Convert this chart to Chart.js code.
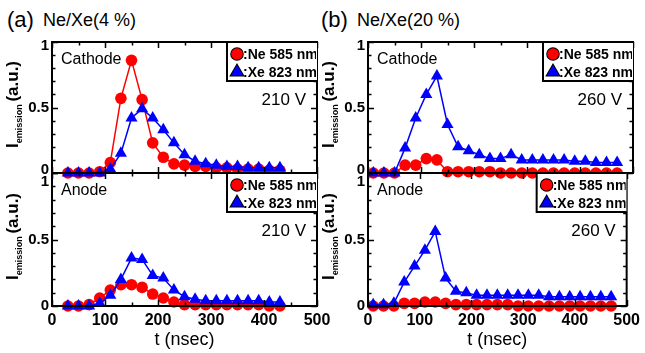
<!DOCTYPE html>
<html>
<head>
<meta charset="utf-8">
<script src="https://cdn.jsdelivr.net/npm/chart.js@4.4.1/dist/chart.umd.min.js"></script>
<style>
  body { margin: 0; background: #fff; font-family: "Liberation Sans", Arial, sans-serif; }
  #wrap { position: relative; width: 645px; height: 353px; overflow: hidden; }
  canvas { position: absolute; left: 0; top: 0; }
  .tag { position: absolute; color: #000; white-space: nowrap; }
  .big { font-size: 22px; }
  .sub { font-size: 18px; }
</style>
</head>
<body>
<div id="wrap">
  <span class="tag big" style="left:7px;top:7px">(a)</span>
  <span class="tag sub" style="left:43px;top:10px">Ne/Xe(4 %)</span>
  <span class="tag big" style="left:321px;top:7px">(b)</span>
  <span class="tag sub" style="left:357px;top:10px">Ne/Xe(20 %)</span>
  <canvas id="c1" width="645" height="353"></canvas>
  <canvas id="c2" width="645" height="353"></canvas>
  <canvas id="c3" width="645" height="353"></canvas>
  <canvas id="c4" width="645" height="353"></canvas>
</div>
<script>
// time axis (nsec)
const timeA = [30, 50, 70, 90, 110, 130, 150, 170, 190, 210, 230, 250, 270, 290, 310, 330, 350, 370, 390, 410, 430];
const timeB = [10, 30, 50, 70, 90, 110, 130, 150, 170, 190, 210, 230, 250, 270, 290, 310, 330, 350, 370, 390, 410, 430, 450, 470];

// (a) Ne/Xe(4 %), 210 V
const neCathodeA = [0, 0, 0, 0.01, 0.08, 0.57, 0.86, 0.56, 0.23, 0.12, 0.07, 0.06, 0.05, 0.05, 0.04, 0.04, 0.03, 0.03, 0.03, 0.02, 0.02];
const xeCathodeA = [0, 0, 0, 0, 0.03, 0.15, 0.42, 0.49, 0.42, 0.33, 0.23, 0.14, 0.09, 0.07, 0.06, 0.05, 0.05, 0.04, 0.04, 0.04, 0.04];
const neAnodeA = [0, 0, 0.01, 0.06, 0.12, 0.16, 0.16, 0.14, 0.09, 0.06, 0.03, 0.01, 0.01, 0.01, 0.01, 0.01, 0.01, 0.01, 0.01, 0, 0];
const xeAnodeA = [0, 0, 0, 0.02, 0.08, 0.2, 0.36, 0.35, 0.23, 0.21, 0.12, 0.07, 0.05, 0.04, 0.04, 0.04, 0.04, 0.04, 0.04, 0.03, 0.03];

// (b) Ne/Xe(20 %), 260 V
const neCathodeB = [0, 0, 0, 0.06, 0.06, 0.11, 0.1, 0.01, 0.01, 0.01, 0.01, 0.01, 0, 0, 0, 0, 0, 0, 0, 0, 0, 0, 0, 0];
const xeCathodeB = [0, 0, 0, 0.19, 0.42, 0.6, 0.74, 0.37, 0.2, 0.17, 0.14, 0.11, 0.11, 0.14, 0.1, 0.1, 0.1, 0.1, 0.1, 0.09, 0.09, 0.08, 0.08, 0.08];
const neAnodeB = [0, 0, 0, 0.02, 0.02, 0.03, 0.03, 0.02, 0.01, 0.01, 0.01, 0.01, 0.01, 0.01, 0, 0, 0, 0, 0, 0, 0, 0, 0, 0];
const xeAnodeB = [0.01, 0.01, 0.02, 0.18, 0.3, 0.42, 0.56, 0.21, 0.11, 0.1, 0.08, 0.08, 0.08, 0.08, 0.08, 0.08, 0.08, 0.07, 0.07, 0.07, 0.07, 0.07, 0.07, 0.07];

// ticks
const yLabels = [0, 0.5, 1];
const yTickVals = [0, 0.1, 0.2, 0.3, 0.4, 0.5, 0.6, 0.7, 0.8, 0.9, 1];
const xTickVals = [0, 50, 100, 150, 200, 250, 300, 350, 400, 450, 500];
const legendNames = [':Ne 585 nm', ':Xe 823 nm'];

const FONT = '"Liberation Sans", Arial, sans-serif';
const RED = '#ff0000';
const BLUE = '#0000ff';

// frame, inward ticks, tick labels, y title, legend box and notes
const panelDecor = {
  id: 'panelDecor',
  afterDraw(chart) {
    const ctx = chart.ctx;
    const a = chart.chartArea;
    const xs = chart.scales.x, ys = chart.scales.y;
    const p = chart.options.plugins.panelDecor;
    ctx.save();
    ctx.strokeStyle = '#000';
    ctx.lineWidth = 1.5;
    yTickVals.forEach(v => {
      const y = Math.round(ys.getPixelForValue(v)) + 0.5;
      const len = yLabels.includes(v) ? 6 : 3.5;
      ctx.beginPath();
      ctx.moveTo(a.left, y); ctx.lineTo(a.left + len, y);
      ctx.moveTo(a.right, y); ctx.lineTo(a.right - len, y);
      ctx.stroke();
    });
    xTickVals.forEach(v => {
      const x = Math.round(xs.getPixelForValue(v)) + 0.5;
      const len = v % 100 === 0 ? 6 : 3.5;
      ctx.beginPath();
      ctx.moveTo(x, a.bottom); ctx.lineTo(x, a.bottom - len);
      ctx.moveTo(x, a.top); ctx.lineTo(x, a.top + len);
      ctx.stroke();
    });
    ctx.lineWidth = 2;
    ctx.strokeRect(a.left, a.top, a.right - a.left, a.bottom - a.top);

    // y tick labels
    ctx.fillStyle = '#000';
    ctx.font = 'bold 15px ' + FONT;
    ctx.textAlign = 'right';
    ctx.textBaseline = 'middle';
    yLabels.forEach(v => {
      ctx.fillText(String(v), a.left - 3, ys.getPixelForValue(v) + (p.labelShift[v] || 0));
    });

    // y title: I_emission (a.u.)
    ctx.save();
    ctx.translate(a.left - 34, (a.top + a.bottom) / 2 - 4);
    ctx.rotate(-Math.PI / 2);
    ctx.textAlign = 'left';
    ctx.textBaseline = 'alphabetic';
    ctx.font = 'bold 17px ' + FONT;
    const wI = ctx.measureText('I').width;
    const wP = ctx.measureText(' (a.u.)').width;
    ctx.font = 'bold 9px ' + FONT;
    const wE = ctx.measureText('emission').width;
    let x0 = -(wI + wE + wP) / 2;
    ctx.font = 'bold 17px ' + FONT;
    ctx.fillText('I', x0, 0);
    ctx.font = 'bold 9px ' + FONT;
    ctx.fillText('emission', x0 + wI, 4);
    ctx.font = 'bold 17px ' + FONT;
    ctx.fillText(' (a.u.)', x0 + wI + wE - 2, 0);
    ctx.restore();

    // electrode and voltage
    ctx.font = '16px ' + FONT;
    ctx.textAlign = 'left';
    ctx.fillText(p.electrode, a.left + 9, a.top + 18);
    ctx.font = '17px ' + FONT;
    ctx.textAlign = 'right';
    ctx.fillText(p.voltage, a.right - 11, a.top + 58);

    // legend box, clipped by the frame
    const lx = a.right - 90, ly = a.top, lh = 39;
    ctx.save();
    ctx.beginPath();
    ctx.rect(lx - 2, ly - 2, a.right - lx + 2, lh + 4);
    ctx.clip();
    ctx.fillStyle = '#fff';
    ctx.fillRect(lx, ly, a.right - lx, lh);
    ctx.lineWidth = 2;
    ctx.strokeRect(lx, ly, a.right - lx + 10, lh);
    ctx.restore();
    ctx.save();
    ctx.beginPath();
    ctx.rect(lx, ly, a.right - lx - 1, lh);
    ctx.clip();
    const ds = chart.data.datasets;
    ds.forEach((d, i) => {
      const cy = ly + 12 + i * 18;
      Chart.helpers.drawPoint(ctx, {
        pointStyle: d.pointStyle, radius: d.pointRadius, borderWidth: 1, rotation: 0
      }, lx + 10, cy);
      ctx.fillStyle = d.backgroundColor;
      ctx.fill();
      ctx.fillStyle = '#000';
      ctx.font = 'bold 14px ' + FONT;
      ctx.textAlign = 'left';
      ctx.textBaseline = 'middle';
      ctx.fillText(legendNames[i], lx + 16, cy + 1);
    });
    ctx.restore();
    ctx.restore();
  }
};

function makePanel(id, time, ne, xe, area, showX, electrode, voltage, labelShift) {
  const yW = 30;
  const xH = showX ? 45 : 0;
  const pts = arr => time.map((t, i) => ({ x: t, y: arr[i] }));
  return new Chart(document.getElementById(id), {
    type: 'line',
    data: {
      datasets: [
        {
          label: 'Ne 585 nm', data: pts(ne), borderColor: RED, backgroundColor: RED,
          pointStyle: 'circle', pointRadius: 5.8, pointBorderWidth: 0, borderWidth: 1.5,
          order: 1, clip: false
        },
        {
          label: 'Xe 823 nm', data: pts(xe), borderColor: BLUE, backgroundColor: BLUE,
          pointStyle: 'triangle', pointRadius: 7, pointBorderWidth: 0, borderWidth: 1.5,
          order: 0, clip: false
        }
      ]
    },
    options: {
      responsive: false,
      animation: false,
      events: [],
      layout: {
        padding: { left: area.left - yW, top: area.top, right: 645 - area.right, bottom: showX ? 2 : 353 - area.bottom }
      },
      plugins: {
        legend: { display: false },
        tooltip: { enabled: false },
        panelDecor: { electrode, voltage, labelShift }
      },
      scales: {
        x: {
          type: 'linear', min: 0, max: 500,
          grid: { display: false, drawTicks: false }, border: { display: false },
          ticks: { display: showX, stepSize: 100, maxRotation: 0, padding: 5, color: '#000', font: { family: FONT, size: 16, weight: 'bold' } },
          title: { display: showX, text: 't (nsec)', color: '#000', padding: 0, font: { family: FONT, size: 18 } },
          afterFit(s) { s.height = xH; }
        },
        y: {
          min: 0, max: 1,
          grid: { display: false, drawTicks: false }, border: { display: false },
          ticks: { display: false },
          afterFit(s) { s.width = yW; }
        }
      }
    },
    plugins: [panelDecor]
  });
}

makePanel('c1', timeA, neCathodeA, xeCathodeA, { left: 52, top: 42, right: 317, bottom: 173 }, false, 'Cathode', '210 V', { 1: 4, 0: -3 });
makePanel('c2', timeA, neAnodeA, xeAnodeA, { left: 52, top: 173, right: 317, bottom: 306 }, true, 'Anode', '210 V', { 1: 9 });
makePanel('c3', timeB, neCathodeB, xeCathodeB, { left: 368, top: 42, right: 633, bottom: 173 }, false, 'Cathode', '260 V', { 1: 4, 0: -3 });
makePanel('c4', timeB, neAnodeB, xeAnodeB, { left: 368, top: 173, right: 633, bottom: 306 }, true, 'Anode', '260 V', { 1: 9 });
</script>
</body>
</html>
